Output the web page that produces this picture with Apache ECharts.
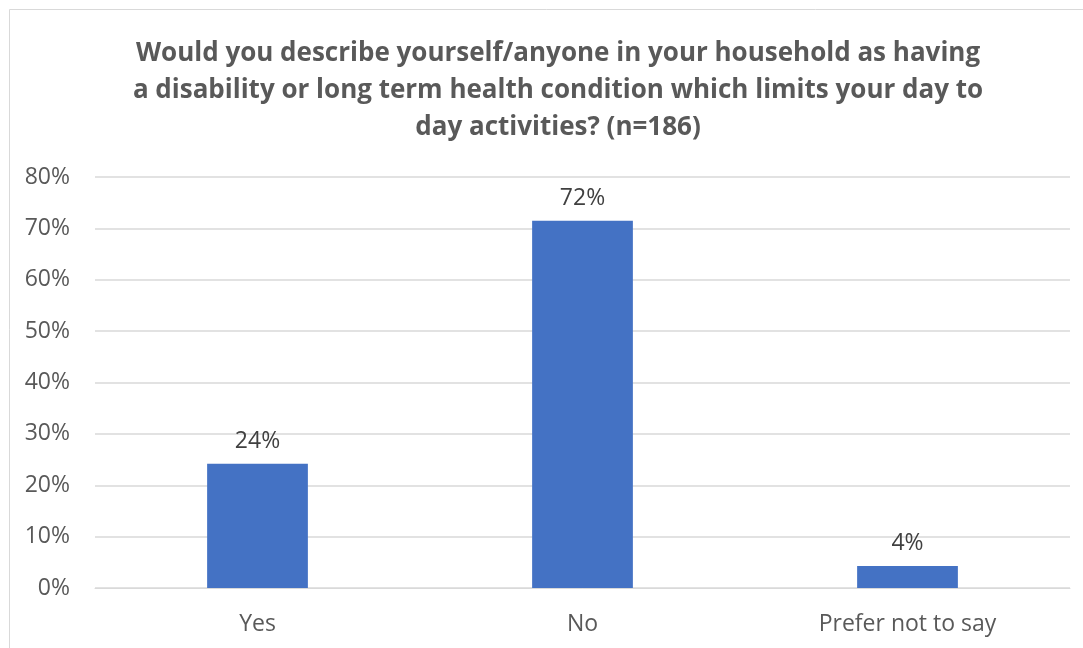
<!DOCTYPE html>
<html><head><meta charset="utf-8">
<script src="https://cdn.jsdelivr.net/npm/echarts@6/dist/echarts.min.js"></script>
<style>html,body{margin:0;padding:0;background:#fff}#c{width:1083px;height:648px}</style>
</head><body><div id="c"></div>
<script>
const titleText = 'Would you describe yourself/anyone in your household as having\na disability or long term health condition which limits your day to\nday activities? (n=186)';
const categories = ['Yes', 'No', 'Prefer not to say'];
const values = [24.2, 71.5, 4.3];
const yTicks = [0, 10, 20, 30, 40, 50, 60, 70, 80];

const chart = echarts.init(document.getElementById('c'));
chart.setOption({
  animation: false,
  backgroundColor: '#fff',
  graphic: [{type: 'rect', shape: {x: 9.5, y: 9.5, width: 1090, height: 660}, style: {fill: 'none', stroke: '#d9d9d9', lineWidth: 1}}],
  title: {
    text: titleText, left: 553, top: 30, textAlign: 'center',
    textStyle: {fontFamily: 'Open Sans', fontWeight: 'bold', fontSize: 26, color: '#595959', lineHeight: 37}
  },
  grid: {left: 95, right: 13, top: 177, bottom: 60, containLabel: false},
  xAxis: {
    type: 'category', data: categories,
    axisLine: {lineStyle: {color: '#d9d9d9'}}, axisTick: {show: false},
    axisLabel: {fontFamily: 'Open Sans', fontSize: 23, color: '#595959', margin: 25}
  },
  yAxis: {
    type: 'value', min: yTicks[0], max: yTicks[yTicks.length - 1], interval: 10,
    axisLine: {show: false}, axisTick: {show: false},
    splitLine: {lineStyle: {color: '#d9d9d9', width: 1.5}},
    axisLabel: {fontFamily: 'Open Sans', fontSize: 23, color: '#595959', margin: 25, formatter: v => v + '%'}
  },
  series: [{
    type: 'bar', data: values, barWidth: '31%',
    itemStyle: {color: '#4472c4'},
    label: {show: true, position: 'top', distance: 11, fontFamily: 'Open Sans', fontSize: 23, color: '#404040', formatter: p => Math.round(p.value) + '%'}
  }]
});
</script></body></html>
